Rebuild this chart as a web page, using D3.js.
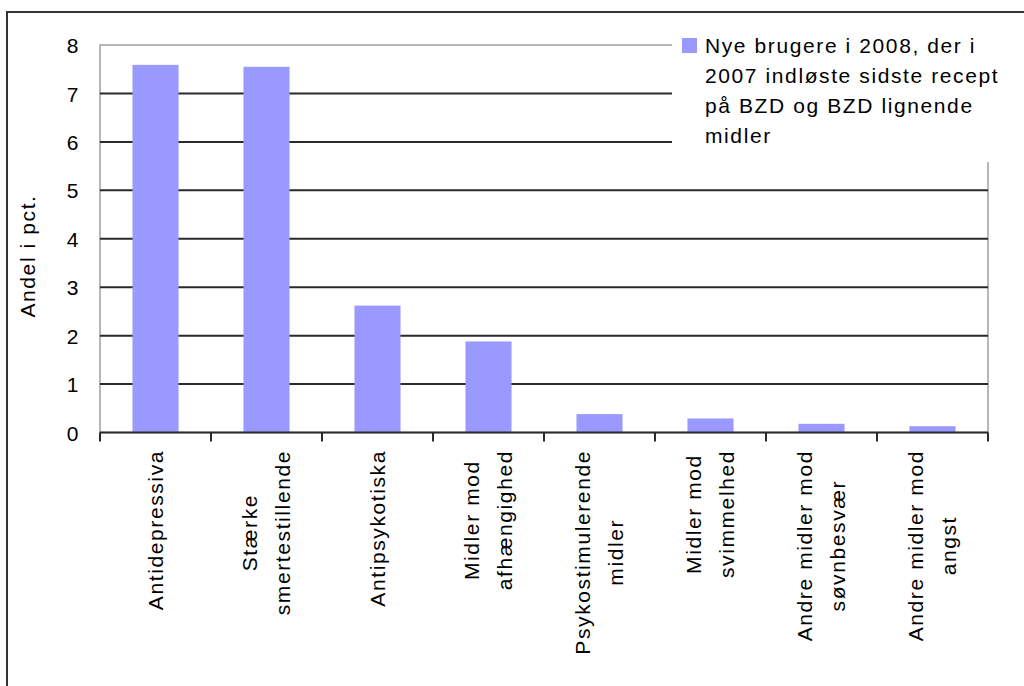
<!DOCTYPE html>
<html>
<head>
<meta charset="utf-8">
<script src="https://cdn.jsdelivr.net/npm/d3@7"></script>
<style>
  html, body { margin: 0; padding: 0; background: #fff; }
  svg { display: block; }
  text { font-family: "Liberation Sans", Arial, sans-serif; font-size: 21px; letter-spacing: 1.6px; fill: #000; }
</style>
</head>
<body>
<svg id="chart" width="1024" height="686"></svg>
<script>
// Share (pct.) of new users in 2008 by drug group
const categories = [
  ["Antidepressiva"],
  ["Stærke", "smertestillende"],
  ["Antipsykotiska"],
  ["Midler mod", "afhængighed"],
  ["Psykostimulerende", "midler"],
  ["Midler mod", "svimmelhed"],
  ["Andre midler mod", "søvnbesvær"],
  ["Andre midler mod", "angst"]
];
const values = [7.59, 7.55, 2.62, 1.88, 0.38, 0.29, 0.18, 0.13];
const yTicks = [0, 1, 2, 3, 4, 5, 6, 7, 8];
const yTitle = "Andel i pct.";
const legendLines = [
  "Nye brugere i 2008, der i",
  "2007 indløste sidste recept",
  "på BZD og BZD lignende",
  "midler"
];

const svg = d3.select("#chart");
const plotL = 100, plotR = 988, plotT = 45, plotB = 432.5;
const keys = categories.map(c => c.join(" "));

const x = d3.scaleBand().domain(keys).range([plotL, plotR])
  .paddingInner(0.585).paddingOuter(0.2925);
const y = d3.scaleLinear().domain([0, 8]).range([plotB, plotT]);

// outer frame
svg.append("path")
  .attr("d", `M7,700 L7,12 L1030,12`)
  .attr("fill", "none").attr("stroke", "#333").attr("stroke-width", 2);

// plot border
svg.append("rect")
  .attr("x", plotL).attr("y", plotT)
  .attr("width", plotR - plotL).attr("height", plotB - plotT)
  .attr("fill", "none").attr("stroke", "#a0a0a0").attr("stroke-width", 1.5);

// gridlines
svg.append("g").selectAll("line")
  .data(yTicks.filter(t => t > 0 && t < 8))
  .join("line")
  .attr("x1", plotL).attr("x2", plotR)
  .attr("y1", d => y(d)).attr("y2", d => y(d))
  .attr("stroke", "#2a2a2a").attr("stroke-width", 2);

// bars
svg.append("g").selectAll("rect")
  .data(values)
  .join("rect")
  .attr("x", (d, i) => x(keys[i]))
  .attr("y", d => y(d))
  .attr("width", x.bandwidth())
  .attr("height", d => y(0) - y(d))
  .attr("fill", "#9999ff");

// y axis labels
const yAxis = d3.axisLeft(y).tickValues(yTicks).tickSize(0).tickPadding(20)
  .tickFormat(d3.format("d"));
const gy = svg.append("g").attr("transform", `translate(${plotL},0)`).call(yAxis);
gy.select(".domain").remove();
gy.selectAll("text")
  .attr("font-family", null).attr("font-size", null)
  .attr("dy", "0.36em");
gy.attr("font-family", null).attr("font-size", null);

// y axis title
svg.append("text")
  .attr("transform", "translate(35,256) rotate(-90)")
  .attr("text-anchor", "middle")
  .text(yTitle);

// x axis line and ticks
svg.append("line")
  .attr("x1", plotL).attr("x2", plotR)
  .attr("y1", plotB).attr("y2", plotB)
  .attr("stroke", "#2a2a2a").attr("stroke-width", 2);
const edges = keys.map(k => x(k) - x.step() * x.paddingInner() / 2).concat([plotR]);
svg.append("g").selectAll("line")
  .data(edges)
  .join("line")
  .attr("x1", d => d).attr("x2", d => d)
  .attr("y1", plotB).attr("y2", plotB + 9)
  .attr("stroke", "#2a2a2a").attr("stroke-width", 2);

// category labels, rotated, lines centred on each other
const labelTop = 450, lineGap = 33;
categories.forEach((lines, i) => {
  const cx = x(keys[i]) + x.bandwidth() / 2;
  const g = svg.append("g");
  const texts = lines.map(l => g.append("text").attr("text-anchor", "middle").text(l));
  const maxLen = d3.max(texts, t => t.node().getComputedTextLength());
  const cy = labelTop + maxLen / 2;
  texts.forEach((t, j) => {
    const bx = cx + (j - (lines.length - 1) / 2) * lineGap + 7;
    t.attr("transform", `translate(${bx},${cy}) rotate(-90)`);
  });
});

// legend
const lg = svg.append("g");
lg.append("rect")
  .attr("x", 672).attr("y", 28).attr("width", 340).attr("height", 134)
  .attr("fill", "#fff");
lg.append("rect")
  .attr("x", 682).attr("y", 38).attr("width", 15).attr("height", 15)
  .attr("fill", "#9999ff");
lg.selectAll("text.leg")
  .data(legendLines)
  .join("text")
  .attr("class", "leg")
  .attr("x", 705)
  .attr("y", (d, i) => 53 + i * 30)
  .text(d => d);
</script>
</body>
</html>
